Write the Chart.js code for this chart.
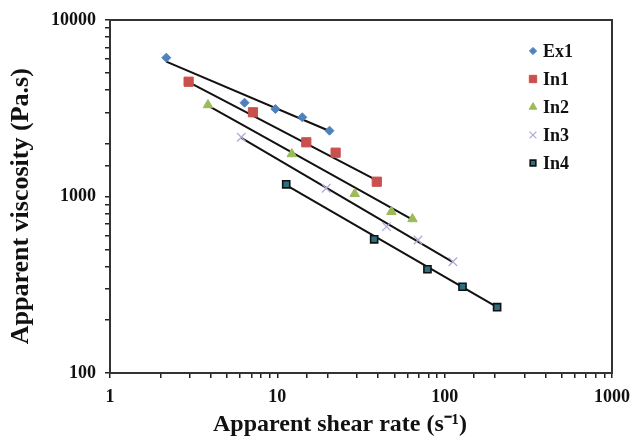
<!DOCTYPE html>
<html>
<head>
<meta charset="utf-8">
<script src="https://cdn.jsdelivr.net/npm/chart.js@4.4.1/dist/chart.umd.min.js"></script>
<style>
  html, body { margin: 0; padding: 0; background: #fff; }
  #wrap { width: 633px; height: 443px; }
</style>
</head>
<body>
<div id="wrap"><canvas id="chart" width="633" height="443"></canvas></div>
<script>
// Shear rate (s-1) and viscosity (Pa.s)
const ex1Rate = [2.17, 6.37, 9.73, 14.1, 20.5];
const ex1Visc = [6115, 3400, 3133, 2810, 2360];
const in1Rate = [2.95, 7.15, 14.9, 22.3, 39.3];
const in1Visc = [4470, 3000, 2028, 1771, 1213];
const in2Rate = [3.85, 12.2, 29.0, 48.1, 64.2];
const in2Visc = [3300, 1741, 1037, 820, 746];
const in3Rate = [6.09, 19.6, 44.9, 69.3, 112];
const in3Visc = [2165, 1113, 675, 567, 427];
const in4Rate = [11.3, 37.9, 78.9, 127.8, 205.8];
const in4Visc = [1172, 572, 387, 308, 236];

// Black trend lines: start / end
const ex1Trend = [5807, 2350];
const in1Trend = [4450, 1235];
const in2Trend = [3270, 740];
const in3Trend = [2150, 425];
const in4Trend = [1160, 236];

const seriesNames = ["Ex1", "In1", "In2", "In3", "In4"];
const xTickLabels = [1, 10, 100, 1000];
const yTickLabels = [100, 1000, 10000];

const toPoints = (xs, ys) => xs.map((x, i) => ({ x: x, y: ys[i] }));
const trendPoints = (xs, ends) => [
  { x: xs[0], y: ends[0] },
  { x: xs[xs.length - 1], y: ends[1] },
];

const markerSets = [
  { data: toPoints(ex1Rate, ex1Visc), pointStyle: "rectRot", pointRadius: 4.5, backgroundColor: "#4f81bd", borderColor: "#4f81bd", borderWidth: 1 },
  { data: toPoints(in1Rate, in1Visc), pointStyle: "rect", pointRadius: 6.5, backgroundColor: "#c9504d", borderColor: "#c9504d", borderWidth: 1 },
  { data: toPoints(in2Rate, in2Visc), pointStyle: "triangle", pointRadius: 5.5, backgroundColor: "#9bbb59", borderColor: "#9bbb59", borderWidth: 1 },
  { data: toPoints(in3Rate, in3Visc), pointStyle: "crossRot", pointRadius: 6, backgroundColor: "#b3a9d6", borderColor: "#b3a9d6", borderWidth: 1.3 },
  { data: toPoints(in4Rate, in4Visc), pointStyle: "rect", pointRadius: 5, backgroundColor: "#2a7080", borderColor: "#111", borderWidth: 1.6 },
].map((d, i) => Object.assign(d, { label: seriesNames[i], showLine: false, order: 1 }));

const trendSets = [
  trendPoints(ex1Rate, ex1Trend),
  trendPoints(in1Rate, in1Trend),
  trendPoints(in2Rate, in2Trend),
  trendPoints(in3Rate, in3Trend),
  trendPoints(in4Rate, in4Trend),
].map((pts) => ({
  label: "trend",
  data: pts,
  showLine: true,
  pointRadius: 0,
  borderColor: "#111",
  borderWidth: 2,
  order: 2,
}));

// frame round the plot + legend inside it, top right
const framePlugin = {
  id: "frame",
  afterDraw(chart) {
    const { ctx, chartArea } = chart;
    ctx.save();
    ctx.strokeStyle = "#333";
    ctx.lineWidth = 2;
    ctx.strokeRect(chartArea.left, chartArea.top, chartArea.right - chartArea.left, chartArea.bottom - chartArea.top);

    ctx.font = "bold 18px 'Liberation Serif', 'Times New Roman', serif";
    ctx.textBaseline = "middle";
    markerSets.forEach((ds, i) => {
      const y = chartArea.top + 31 + i * 28;
      const x = chartArea.right - 79;
      ctx.fillStyle = ds.backgroundColor;
      ctx.strokeStyle = ds.borderColor;
      ctx.lineWidth = ds.borderWidth;
      Chart.helpers.drawPoint(ctx, { pointStyle: ds.pointStyle, radius: ds.pointRadius * 0.8, rotation: 0, borderWidth: ds.borderWidth }, x, y);
      ctx.fillStyle = "#111";
      ctx.fillText(ds.label, x + 10, y + 1);
    });
    ctx.restore();
  },
};

const serif = "'Liberation Serif', 'Times New Roman', serif";
const tickFont = { family: serif, size: 18, weight: "bold" };

new Chart(document.getElementById("chart"), {
  type: "scatter",
  data: { datasets: markerSets.concat(trendSets) },
  options: {
    responsive: false,
    animation: false,
    layout: { padding: { top: 20, right: 21, left: 0, bottom: 0 } },
    plugins: { legend: { display: false }, tooltip: { enabled: false } },
    scales: {
      x: {
        type: "logarithmic",
        min: 1,
        max: 1000,
        grid: { drawOnChartArea: false, color: "#222", tickLength: 5, lineWidth: 1.5 },
        border: { color: "#333", width: 2 },
        ticks: {
          autoSkip: false,
          maxRotation: 0,
          color: "#111",
          font: tickFont,
          padding: 9,
          callback: (v) => (xTickLabels.includes(v) ? String(v) : ""),
        },
        // trailing spaces nudge the title left, as in the original
        title: { display: true, text: "Apparent shear rate (s\u207B\u00B9)       ", color: "#111", font: { family: serif, size: 24, weight: "bold" }, padding: { top: 0, bottom: 4 } },
        afterFit: (s) => {
          s.height = 70;
          s.paddingLeft = 0;
          s.paddingRight = 0; // let "1000" hang past the frame
        },
      },
      y: {
        type: "logarithmic",
        min: 100,
        max: 10000,
        grid: { drawOnChartArea: false, color: "#222", tickLength: 5, lineWidth: 1.5 },
        border: { color: "#333", width: 2 },
        ticks: {
          autoSkip: false,
          color: "#111",
          font: tickFont,
          padding: 9,
          callback: (v) => (yTickLabels.includes(v) ? String(v) : ""),
        },
        title: { display: true, text: "Apparent viscosity (Pa.s)   ", color: "#111", font: { family: serif, size: 26, weight: "bold" }, padding: { top: 6, bottom: 10 } },
        afterFit: (s) => { s.width = 110; },
      },
    },
  },
  plugins: [framePlugin],
});
</script>
</body>
</html>
